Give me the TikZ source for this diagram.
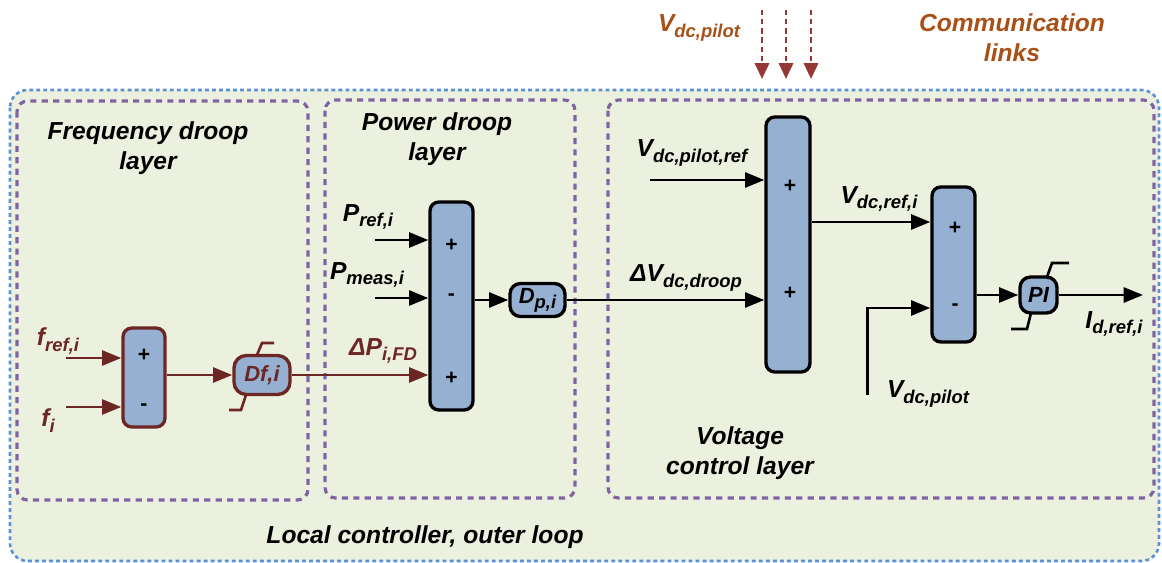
\documentclass[tikz,border=0pt]{standalone}
\usepackage{fontspec}
\setmainfont{Liberation Sans}
\usetikzlibrary{arrows.meta, positioning, calc}
\definecolor{Maroon}{RGB}{108,38,36}
\definecolor{BlockBlue}{RGB}{149,176,208}
\definecolor{PaleGreen}{RGB}{235,241,222}
\definecolor{LayerPurple}{RGB}{128,100,162}
\definecolor{LinkBlue}{RGB}{90,145,215}
\definecolor{LinkRed}{RGB}{149,55,53}
\definecolor{CommOrange}{RGB}{168,80,22}
\newcommand{\sigsub}[1]{\raisebox{-0.45ex}{\fontsize{10.5}{11}\selectfont #1}}

\begin{document}
\begin{tikzpicture}[x=0.02cm, y=-0.02cm, >={Triangle[length=11pt,width=8.5pt]}, line width=1.7pt,
    font=\bfseries\itshape\fontsize{14}{17}\selectfont,
    sumblock/.style={draw, fill=BlockBlue, rounded corners=5pt, inner sep=0pt, line width=1.9pt},
    gainblock/.style={draw, fill=BlockBlue, rounded corners=6pt, inner sep=0pt, line width=1.9pt,
        font=\bfseries\itshape\fontsize{12.5}{14}\selectfont},
    sign/.style={font=\normalfont\bfseries\fontsize{12}{12}\selectfont},
    layerbox/.style={draw=LayerPurple, dash pattern=on 3.5pt off 3pt, line width=1.8pt, rounded corners=6pt},
    sig/.style={inner sep=0pt}]
        % Background and layers
        \useasboundingbox (0,0) rectangle (1162,563);
        \draw[LinkBlue, fill=PaleGreen, dash pattern=on 2.2pt off 1.8pt, line width=1.5pt, rounded corners=10pt] (10,90) rectangle (1159,561);
        \draw[layerbox] (17,101) rectangle (308,500);
        \draw[layerbox] (325,100) rectangle (575,498);
        \draw[layerbox] (608,100) rectangle (1154,498);
        \node[align=center] (tfreq) at (148,148) {Frequency droop\\layer};
        \node[align=center] (tpower) at (437,139) {Power droop\\layer};
        \node[align=center] (tvolt) at (740,453) {Voltage\\control layer};
        \node (tlocal) at (425,537) {Local controller, outer loop};
        \node[align=center, CommOrange] (tcomm) at (1012,38) {Communication\\links};
        \node[CommOrange, sig] (tpilot) at (699,28) {V\sigsub{dc,pilot}};

        % Communication links
        \foreach \x [count=\i] in {762,786,811} {
            \coordinate (link\i) at (\x,10);
            \coordinate (end\i) at (\x,79);
            \draw[LinkRed, dash pattern=on 3pt off 2.2pt, line width=1.6pt, -{Triangle[length=9pt,width=8pt]}] (link\i) -- (end\i);
        }

        % Frequency droop layer
        \node[sumblock, draw=Maroon, minimum width=0.84cm, minimum height=1.98cm] (fsum) at (144,377.5) {};
        \node[sign] at (144,355) {+};
        \node[sign] at (144,407) {-};
        \node[gainblock, draw=Maroon, minimum width=1.12cm, minimum height=0.78cm, text=Maroon, rounded corners=7pt] (dfgain) at (262,375) {Df,i};
        \draw[Maroon, line width=1.5pt] (257,355) -- (262,343) -- (274,343);
        \draw[Maroon, line width=1.5pt] (246,395) -- (241,410) -- (229,410);
        \coordinate (frefin) at (66,358);
        \coordinate (fin) at (66,407);
        \node[sig, Maroon] (lfref) at (58,341) {f\sigsub{ref,i}};
        \node[sig, Maroon] (lfi) at (48,421) {f\sigsub{i}};
        \draw[->, Maroon] (frefin) -- (frefin -| fsum.west);
        \draw[->, Maroon] (fin) -- (fin -| fsum.west);
        \draw[->, Maroon] (fsum.east |- dfgain) -- (dfgain.west);

        % Power droop layer
        \node[sumblock, minimum width=0.86cm, minimum height=4.16cm] (psum) at (451.5,306) {};
        \node[sign] at (451.5,245) {+};
        \node[sign] at (451.5,297) {-};
        \node[sign] at (451.5,378) {+};
        \node[gainblock, minimum width=1.1cm, minimum height=0.66cm] (dpgain) at (537.5,300) {D\sigsub{p,i}};
        \coordinate (prefin) at (375,240);
        \coordinate (pmeasin) at (375,298);
        \node[sig] (lpref) at (368,217) {P\sigsub{ref,i}};
        \node[sig] (lpmeas) at (367,275) {P\sigsub{meas,i}};
        \node[sig, Maroon] (ldpfd) at (383,351) {ΔP\sigsub{i,FD}};
        \draw[->] (prefin) -- (prefin -| psum.west);
        \draw[->] (pmeasin) -- (pmeasin -| psum.west);
        \draw[->, Maroon] (dfgain.east) -- (dfgain.east -| psum.west);
        \draw[->] (psum.east |- dpgain) -- (dpgain.west);

        % Voltage control layer
        \node[sumblock, minimum width=0.88cm, minimum height=5.1cm] (vsum) at (788,244.5) {};
        \node[sign] at (790,186) {+};
        \node[sign] at (790,293) {+};
        \node[sumblock, minimum width=0.86cm, minimum height=3.1cm] (isum) at (953.5,264.5) {};
        \node[sign] at (955,228) {+};
        \node[sign] at (955,307) {-};
        \node[gainblock, minimum width=0.74cm, minimum height=0.72cm] (pigain) at (1038.5,295) {PI};
        \draw[line width=1.5pt] (1047,277) -- (1052,263) -- (1069,263);
        \draw[line width=1.5pt] (1031,313) -- (1027,329) -- (1011,329);
        \coordinate (vrefin) at (650,180);
        \coordinate (vpilotin) at (867,395);
        \coordinate (idout) at (1143,295);
        \node[sig] (lvref) at (692,153) {V\sigsub{dc,pilot,ref}};
        \node[sig] (ldvdroop) at (686,278) {ΔV\sigsub{dc,droop}};
        \node[sig] (lvrefi) at (879,199) {V\sigsub{dc,ref,i}};
        \node[sig] (lvpilot) at (928,394) {V\sigsub{dc,pilot}};
        \node[sig] (lidref) at (1114,324) {I\sigsub{d,ref,i}};
        \draw[->] (vrefin) -- (vrefin -| vsum.west);
        \draw[->] (dpgain.east) -- (dpgain.east -| vsum.west);
        \draw[->] (vsum.east |- 0,222) -- (isum.west |- 0,222);
        \draw[->] (vpilotin) -- (867,308) -- (isum.west |- 0,308);
        \draw[->] (isum.east |- pigain) -- (pigain.west);
        \draw[->] (pigain.east) -- (idout);
\end{tikzpicture}
\end{document}
